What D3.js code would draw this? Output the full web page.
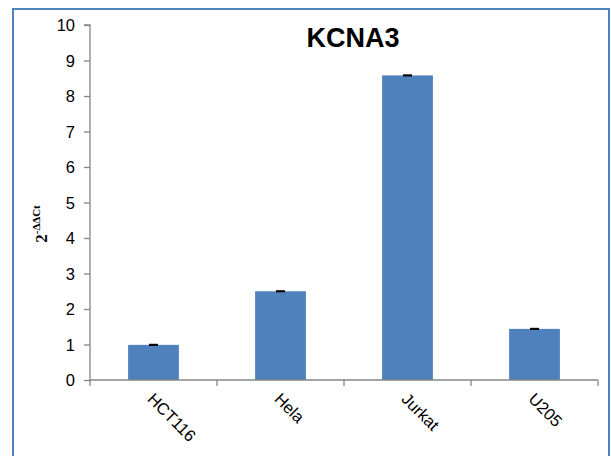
<!DOCTYPE html>
<html>
<head>
<meta charset="utf-8">
<script src="https://cdn.jsdelivr.net/npm/d3@7"></script>
<style>
  html, body { margin: 0; padding: 0; background: #fff; }
  svg { display: block; }
</style>
</head>
<body>
<svg id="chart" width="611" height="456"></svg>
<script>
// Relative KCNA3 expression per cell line
const cellLines = ["HCT116", "Hela", "Jurkat", "U205"];
const expression = [0.99, 2.50, 8.58, 1.44];
const errors = [0.03, 0.03, 0.03, 0.03];
const yTicks = [0, 1, 2, 3, 4, 5, 6, 7, 8, 9, 10];
const chartTitle = "KCNA3";

const svg = d3.select("#chart");
const axisColor = "#868686";
const barColor = "#4f81bd";
const labelFont = "'Liberation Sans', Arial, sans-serif";

// outer chart frame
svg.append("rect")
  .attr("x", 13).attr("y", 9)
  .attr("width", 596).attr("height", 452)
  .attr("fill", "#fff")
  .attr("stroke", "#4f81bd")
  .attr("stroke-width", 2);

const plot = { left: 90, right: 598, top: 25, bottom: 380 };

const x = d3.scaleBand()
  .domain(cellLines)
  .range([plot.left, plot.right])
  .paddingInner(0.6)
  .paddingOuter(0.3);

const y = d3.scaleLinear()
  .domain([0, 10])
  .range([plot.bottom, plot.top]);

// bars
svg.append("g").selectAll("rect")
  .data(cellLines)
  .join("rect")
  .attr("x", d => x(d))
  .attr("y", (d, i) => y(expression[i]))
  .attr("width", x.bandwidth())
  .attr("height", (d, i) => y(0) - y(expression[i]))
  .attr("fill", barColor);

// error bars (very small spread, drawn as short black dashes)
svg.append("g").selectAll("rect")
  .data(cellLines)
  .join("rect")
  .attr("x", d => x(d) + x.bandwidth() / 2 - 4.5)
  .attr("y", (d, i) => y(expression[i] + errors[i]))
  .attr("width", 9)
  .attr("height", (d, i) => Math.max(2, y(expression[i] - errors[i]) - y(expression[i] + errors[i])))
  .attr("fill", "#000");

// y axis
const yAxis = svg.append("g")
  .attr("transform", `translate(${plot.left},0)`)
  .call(d3.axisLeft(y).tickValues(yTicks).tickSize(6).tickPadding(9).tickFormat(d3.format("d")));
yAxis.select(".domain").attr("stroke", axisColor).attr("stroke-width", 1.3).attr("d", `M-6,${plot.top}H0V${plot.bottom}`);
yAxis.selectAll(".tick line").attr("stroke", axisColor).attr("stroke-width", 1.3);
yAxis.selectAll(".tick text")
  .attr("fill", "#000")
  .attr("dy", "0.36em")
  .style("font-family", labelFont)
  .style("font-size", "16.5px");

// x axis: line with ticks at category boundaries
const boundaries = d3.range(cellLines.length + 1).map(i => plot.left + i * (plot.right - plot.left) / cellLines.length);
const xAxisG = svg.append("g");
xAxisG.append("line")
  .attr("x1", plot.left).attr("x2", plot.right)
  .attr("y1", plot.bottom).attr("y2", plot.bottom)
  .attr("stroke", axisColor).attr("stroke-width", 1.3);
xAxisG.selectAll("line.tk")
  .data(boundaries)
  .join("line")
  .attr("class", "tk")
  .attr("x1", d => d).attr("x2", d => d)
  .attr("y1", plot.bottom).attr("y2", plot.bottom + 6)
  .attr("stroke", axisColor).attr("stroke-width", 1.3);

// rotated category labels
xAxisG.selectAll("text")
  .data(cellLines)
  .join("text")
  .attr("transform", d => `translate(${x(d) + x.bandwidth() / 2 - 4},${plot.bottom + 17}) rotate(45)`)
  .attr("text-anchor", "start")
  .attr("dominant-baseline", "middle")
  .style("font-family", labelFont)
  .style("font-size", "16.5px")
  .attr("fill", "#000")
  .text(d => d);

// title
svg.append("text")
  .attr("x", 353).attr("y", 47)
  .attr("text-anchor", "middle")
  .style("font-family", labelFont)
  .style("font-weight", "bold")
  .style("font-size", "27px")
  .attr("fill", "#000")
  .text(chartTitle);

// y axis title: 2^-ΔΔCt
const yTitle = svg.append("text")
  .attr("transform", "translate(47,224) rotate(-90)")
  .attr("text-anchor", "middle")
  .style("font-family", "'Liberation Serif', 'Times New Roman', serif")
  .style("font-weight", "bold")
  .attr("fill", "#000");
yTitle.append("tspan").style("font-size", "17px").text("2");
yTitle.append("tspan").style("font-size", "11px").attr("dy", -7).text("-ΔΔCt");
</script>
</body>
</html>
